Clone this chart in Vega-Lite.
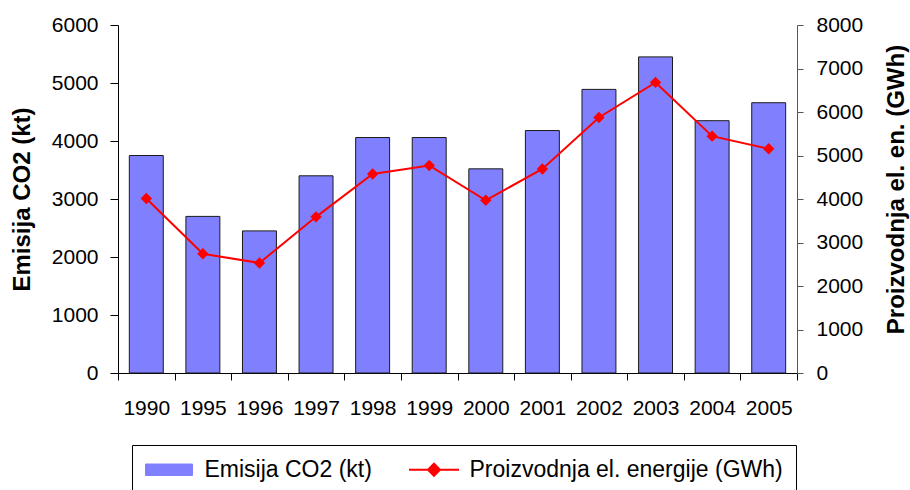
{
  "$schema": "https://vega.github.io/schema/vega-lite/v6.json",
  "width": 679,
  "height": 348,
  "autosize": {"type": "none"},
  "padding": {"left": 118, "top": 25, "right": 113, "bottom": 117},
  "background": "white",
  "config": {
    "font": "Liberation Sans",
    "view": {"stroke": null},
    "axis": {"grid": false, "labelColor": "#000000", "titleColor": "#000000", "labelFont": "Liberation Sans", "titleFont": "Liberation Sans"},
    "legend": {"labelFont": "Liberation Sans"}
  },
  "data": {
    "values": [
      {"year": "1990", "co2": 3750, "el": 4010},
      {"year": "1995", "co2": 2700, "el": 2740},
      {"year": "1996", "co2": 2450, "el": 2530},
      {"year": "1997", "co2": 3400, "el": 3590},
      {"year": "1998", "co2": 4060, "el": 4575},
      {"year": "1999", "co2": 4060, "el": 4770},
      {"year": "2000", "co2": 3520, "el": 3970},
      {"year": "2001", "co2": 4180, "el": 4690},
      {"year": "2002", "co2": 4890, "el": 5875},
      {"year": "2003", "co2": 5450, "el": 6680},
      {"year": "2004", "co2": 4350, "el": 5445},
      {"year": "2005", "co2": 4660, "el": 5155}
    ]
  },
  "encoding": {
    "x": {
      "field": "year",
      "type": "nominal",
      "sort": null,
      "scale": {"paddingInner": 0, "paddingOuter": 0},
      "axis": {
        "title": null,
        "labelAngle": 0,
        "labelFontSize": 21,
        "labelPadding": 17,
        "tickSize": 7,
        "tickBand": "extent",
        "domainColor": "#000000",
        "tickColor": "#000000",
        "domainWidth": 1,
        "tickWidth": 1
      }
    }
  },
  "layer": [
    {
      "mark": {"type": "bar", "stroke": "#1a1a1a", "strokeWidth": 1, "opacity": 1, "width": {"band": 0.6}},
      "encoding": {
        "y": {
          "field": "co2",
          "type": "quantitative",
          "scale": {"domain": [0, 6000], "nice": false},
          "axis": {
            "title": "Emisija CO2 (kt)",
            "format": "d",
            "values": [0, 1000, 2000, 3000, 4000, 5000, 6000],
            "labelFontSize": 21,
            "labelPadding": 12,
            "tickSize": 8,
            "domainColor": "#000000",
            "tickColor": "#000000",
            "titleFontSize": 24,
            "titleFontWeight": "bold",
            "titleAngle": 270,
            "titleX": -96,
            "titleY": 174,
            "titleAlign": "center",
            "titleBaseline": "middle"
          }
        },
        "color": {
          "datum": "Emisija CO2 (kt)",
          "type": "nominal",
          "scale": {
            "domain": ["Emisija CO2 (kt)", "Proizvodnja el. energije (GWh)"],
            "range": ["#8080ff", "#ff0000"]
          },
          "legend": {
            "title": null,
            "orient": "none",
            "direction": "horizontal",
            "legendX": 14,
            "legendY": 420,
            "padding": 13,
            "strokeColor": "#000000",
            "fillColor": "#ffffff",
            "labelFontSize": 23,
            "labelColor": "#000000",
            "labelLimit": 500,
            "labelOffset": 24,
            "columnPadding": 33,
            "symbolSize": 625,
            "symbolOffset": 12.5,
            "symbolType": {"expr": "datum.value === 'Emisija CO2 (kt)' ? 'M-1.88,-0.46H1.88V0.46H-1.88Z' : 'M-2,0H-0.48L0,-0.48L0.48,0L0,0.48L-0.48,0ZM0.48,0H2'"},
            "symbolStrokeColor": {"expr": "datum.value === 'Emisija CO2 (kt)' ? '#1a1a1a' : '#ff0000'"},
            "symbolStrokeWidth": {"expr": "datum.value === 'Emisija CO2 (kt)' ? 1 : 2"},
            "encode": {
              "symbols": {
                "update": {
                  "shape": {"signal": "datum.value === 'Emisija CO2 (kt)' ? 'M-1.88,-0.46H1.88V0.46H-1.88Z' : 'M-2,0H-0.48L0,-0.48L0.48,0L0,0.48L-0.48,0ZM0.48,0H2'"},
                  "fill": {"signal": "datum.value === 'Emisija CO2 (kt)' ? '#8080ff' : '#ff0000'"},
                  "stroke": {"signal": "datum.value === 'Emisija CO2 (kt)' ? '#1a1a1a' : '#ff0000'"},
                  "strokeWidth": {"signal": "datum.value === 'Emisija CO2 (kt)' ? 1 : 2"},
                  "opacity": {"value": 1},
                  "fillOpacity": {"value": 1},
                  "strokeOpacity": {"value": 1}
                }
              }
            }
          }
        }
      }
    },
    {
      "mark": {"type": "line", "strokeWidth": 2, "point": {"filled": true, "shape": "diamond", "size": 130, "opacity": 1}},
      "encoding": {
        "y": {
          "field": "el",
          "type": "quantitative",
          "scale": {"domain": [0, 8000], "nice": false},
          "axis": {
            "orient": "right",
            "title": "Proizvodnja el. en. (GWh)",
            "format": "d",
            "values": [0, 1000, 2000, 3000, 4000, 5000, 6000, 7000, 8000],
            "labelFontSize": 21,
            "labelPadding": 13,
            "tickSize": 6,
            "domainColor": "#555555",
            "tickColor": "#555555",
            "titleFontSize": 24,
            "titleFontWeight": "bold",
            "titleAngle": 270,
            "titleX": 99,
            "titleY": 164,
            "titleAlign": "center",
            "titleBaseline": "middle"
          }
        },
        "color": {"datum": "Proizvodnja el. energije (GWh)", "type": "nominal"}
      }
    }
  ],
  "resolve": {"scale": {"y": "independent"}}
}
